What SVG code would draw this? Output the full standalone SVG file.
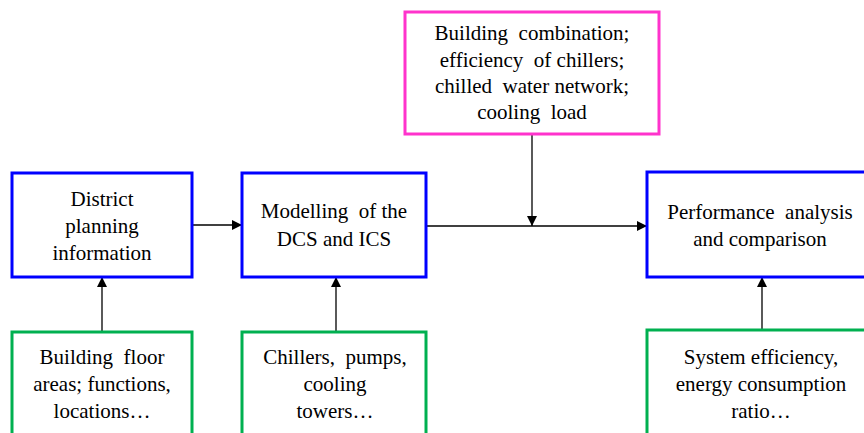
<svg xmlns="http://www.w3.org/2000/svg" width="864" height="433" viewBox="0 0 864 433">
<defs>
<marker id="ah" viewBox="0 0 10 10" refX="10" refY="5" markerWidth="10" markerHeight="10" markerUnits="userSpaceOnUse" orient="auto">
<path d="M0,0 L10,5 L0,10 Z" fill="#000"/>
</marker>
<style>
.box{fill:#fff;stroke-width:3}
.blue{stroke:#0000ff}
.green{stroke:#00b050}
.pink{stroke:#ff33cc}
.t{font-size:21px;fill:#000;text-anchor:middle;white-space:pre}
.conn{stroke:#000;stroke-width:1.3;fill:none}
</style>
</defs>
<rect width="864" height="433" fill="#fff"/>
<g id="connectors">
<path class="conn" d="M192,225 H242" marker-end="url(#ah)"/>
<path class="conn" d="M426,226 H647" marker-end="url(#ah)"/>
<path class="conn" d="M532,134 V226" marker-end="url(#ah)"/>
<path class="conn" d="M102,332 V277" marker-end="url(#ah)"/>
<path class="conn" d="M336,332 V277" marker-end="url(#ah)"/>
<path class="conn" d="M762,330 V277" marker-end="url(#ah)"/>
</g>
<g font-family="Liberation Serif, Times New Roman, serif">
<g id="district">
<rect class="box blue" x="12" y="173" width="180" height="104"/>
<text class="t" x="102" y="206">District</text>
<text class="t" x="102" y="233">planning</text>
<text class="t" x="102" y="260">information</text>
</g>
<g id="modelling">
<rect class="box blue" x="242" y="173" width="184" height="104"/>
<text class="t" x="334" y="218">Modelling  of the</text>
<text class="t" x="334" y="246">DCS and ICS</text>
</g>
<g id="factors">
<rect class="box pink" x="405" y="12" width="254" height="122"/>
<text class="t" x="532" y="40">Building  combination;</text>
<text class="t" x="532" y="67">efficiency  of chillers;</text>
<text class="t" x="532" y="93">chilled  water network;</text>
<text class="t" x="532" y="119">cooling  load</text>
</g>
<g id="performance">
<rect class="box blue" x="647" y="172" width="230" height="105"/>
<text class="t" x="760" y="219">Performance  analysis</text>
<text class="t" x="760" y="246">and comparison</text>
</g>
<g id="floor">
<rect class="box green" x="12" y="332" width="180" height="110"/>
<text class="t" x="102" y="364">Building  floor</text>
<text class="t" x="102" y="391">areas; functions,</text>
<text class="t" x="102" y="418">locations…</text>
</g>
<g id="equipment">
<rect class="box green" x="242" y="332" width="184" height="110"/>
<text class="t" x="335" y="364">Chillers,  pumps,</text>
<text class="t" x="335" y="391">cooling</text>
<text class="t" x="335" y="418">towers…</text>
</g>
<g id="efficiency">
<rect class="box green" x="647" y="330" width="230" height="112"/>
<text class="t" x="761" y="364">System efficiency,</text>
<text class="t" x="761" y="391">energy consumption</text>
<text class="t" x="761" y="418">ratio…</text>
</g>
</g>
</svg>
